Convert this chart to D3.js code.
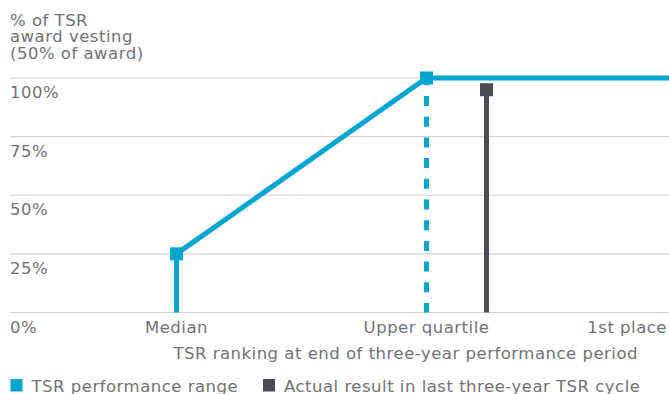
<!DOCTYPE html>
<html>
<head>
<meta charset="utf-8">
<script src="https://cdn.jsdelivr.net/npm/d3@7"></script>
<style>
  html, body { margin: 0; padding: 0; background: #fff; }
  svg { display: block; }
  text { font-family: "DejaVu Sans", sans-serif; fill: #717275; font-size: 16.5px; letter-spacing: 0.5px; }
</style>
</head>
<body>
<svg id="chart" width="669" height="394"></svg>
<script>
// Vesting schedule for the TSR half of the award
const yTickValues = [0, 25, 50, 75, 100];
const yTickLabels = ["0%", "25%", "50%", "75%", "100%"];
const rankCategories = ["Median", "Upper quartile", "1st place"];
const rankPercentiles = [50, 75, 100];
const vestingPercent = [25, 100, 100];        // vesting at each ranking point
const actualPercentile = 81;                  // last three-year TSR cycle
const actualVesting = 95;
const titleLines = ["% of TSR", "award vesting", "(50% of award)"];
const xAxisTitle = "TSR ranking at end of three-year performance period";
const legendLabels = ["TSR performance range", "Actual result in last three-year TSR cycle"];

const W = 669, H = 394;
const cyan = "#00a6d0", dark = "#4b4d55", grid = "#d4d4d4";

const svg = d3.select("#chart");

const x = d3.scaleLinear().domain([50, 100]).range([176.5, 676.5]);
const y = d3.scaleLinear().domain([0, 100]).range([312.5, 78]);

// Horizontal gridlines with labels sitting under each line
svg.append("g").selectAll("line").data(yTickValues).join("line")
  .attr("x1", 10).attr("x2", W)
  .attr("y1", d => y(d)).attr("y2", d => y(d))
  .attr("stroke", grid).attr("stroke-width", 1.2);

svg.append("g").selectAll("text").data(yTickValues).join("text")
  .attr("x", 10).attr("y", d => y(d) + 20)
  .text((d, i) => yTickLabels[i]);

// Axis title block, top left
svg.append("g").selectAll("text").data(titleLines).join("text")
  .attr("x", 10).attr("y", (d, i) => 25.5 + i * 16.8)
  .text(d => d);

// Ranking labels along the bottom
svg.append("g").selectAll("text").data(rankCategories).join("text")
  .attr("x", (d, i) => i === rankCategories.length - 1 ? W - 2 : x(rankPercentiles[i]))
  .attr("y", 333)
  .attr("text-anchor", (d, i) => i === rankCategories.length - 1 ? "end" : "middle")
  .text(d => d);

svg.append("text")
  .attr("x", 638).attr("y", 358.5)
  .attr("text-anchor", "end")
  .text(xAxisTitle);

const plot = svg.append("g");

// Drop line at median
plot.append("line")
  .attr("x1", x(50)).attr("x2", x(50))
  .attr("y1", y(0)).attr("y2", y(vestingPercent[0]))
  .attr("stroke", cyan).attr("stroke-width", 5);

// Dashed marker at upper quartile
plot.append("line")
  .attr("x1", x(75)).attr("x2", x(75))
  .attr("y1", y(100)).attr("y2", y(0))
  .attr("stroke", cyan).attr("stroke-width", 5)
  .attr("stroke-dasharray", "10,10.7")
  .attr("stroke-dashoffset", 2.7);

// Actual result bar
plot.append("line")
  .attr("x1", x(actualPercentile)).attr("x2", x(actualPercentile))
  .attr("y1", y(0)).attr("y2", y(actualVesting))
  .attr("stroke", dark).attr("stroke-width", 5);
plot.append("rect")
  .attr("x", x(actualPercentile) - 6.5).attr("y", y(actualVesting) - 6.5)
  .attr("width", 13).attr("height", 13)
  .attr("fill", dark);

// Vesting range line
const pts = rankPercentiles.map((p, i) => [p, vestingPercent[i]]);
plot.append("path")
  .datum(pts)
  .attr("d", d3.line().x(d => x(d[0])).y(d => y(d[1])))
  .attr("fill", "none").attr("stroke", cyan).attr("stroke-width", 5);

plot.selectAll("rect.pt").data(pts.slice(0, 2)).join("rect")
  .attr("class", "pt")
  .attr("x", d => x(d[0]) - 6.5).attr("y", d => y(d[1]) - 6.5)
  .attr("width", 13).attr("height", 13)
  .attr("fill", cyan);

// Legend
const legendX = [10.5, 263];
const legendColors = [cyan, dark];
const lg = svg.append("g").selectAll("g").data(legendLabels).join("g")
  .attr("transform", (d, i) => `translate(${legendX[i]},379)`);
lg.append("rect").attr("width", 12).attr("height", 12.5)
  .attr("fill", (d, i) => legendColors[i]);
lg.append("text").attr("x", 21).attr("y", 13).text(d => d);
</script>
</body>
</html>
